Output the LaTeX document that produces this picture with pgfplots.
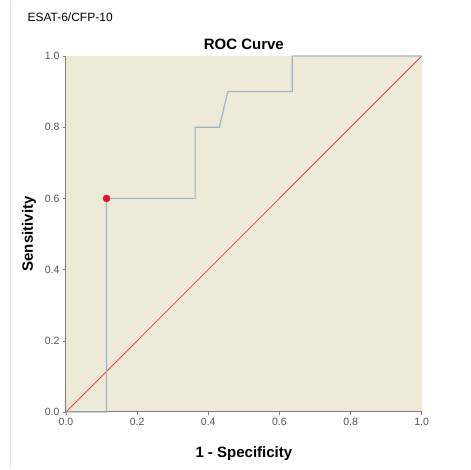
\documentclass[border=0pt]{standalone}
\usepackage{pgfplots}
\pgfplotsset{compat=1.18}
\usepackage{fontspec}
\setmainfont{Liberation Sans}
\definecolor{bgbeige}{HTML}{EFEAD8}
\definecolor{roccol}{HTML}{9FB3CA}
\definecolor{diagcol}{HTML}{D84A3A}
\definecolor{dotred}{HTML}{E0102F}
\definecolor{axgray}{HTML}{7E7E74}
\definecolor{ticktext}{HTML}{505050}
\begin{document}
\begin{tikzpicture}
\path[use as bounding box] (0,0) rectangle (471pt,470pt);
\draw[gray!20, line width=0.6pt] (10pt,2pt) -- (10pt,468pt);
\node[anchor=west, font=\fontsize{12}{14}\selectfont] at (24pt,453pt) {ESAT-6/CFP-10};
\begin{axis}[
  at={(66pt,58pt)}, anchor=south west,
  scale only axis, width=355.7pt, height=356pt,
  xmin=0, xmax=1, ymin=0, ymax=1,
  axis x line*=bottom, axis y line*=left,
  axis line style={axgray, line width=1pt, -},
  axis background/.style={fill=bgbeige},
  xtick={0,0.2,...,1.0}, ytick={0,0.2,...,1.0},
  xticklabel style={/pgf/number format/.cd, fixed, fixed zerofill, precision=1},
  yticklabel style={/pgf/number format/.cd, fixed, fixed zerofill, precision=1},
  /pgf/number format/assume math mode=true,
  tick label style={font=\fontsize{10.5}{12}\selectfont, text=ticktext},
  tick style={axgray, line width=0.5pt},
  major tick length=3pt,
  tick align=outside,
  title={\textbf{ROC Curve}},
  title style={font=\fontsize{15}{17}\selectfont, yshift=-3pt},
  xlabel={\textbf{1 - Specificity}},
  ylabel={\textbf{Sensitivity}},
  label style={font=\fontsize{15}{17}\selectfont},
  xlabel style={yshift=-14pt},
  ylabel style={yshift=2pt},
  clip=false,
]
\addplot[diagcol, line width=0.8pt] coordinates {(0,0) (1,1)};
\addplot[roccol, line width=1.2pt] coordinates {
(0,0) (0.114,0) (0.114,0.6) (0.363,0.6) (0.363,0.8) (0.431,0.8) (0.455,0.9) (0.636,0.9) (0.636,1.0) (1.0,1.0)};
\addplot[only marks, mark=*, mark size=3.5pt, dotred] coordinates {(0.114,0.6)};
\end{axis}
\end{tikzpicture}
\end{document}
